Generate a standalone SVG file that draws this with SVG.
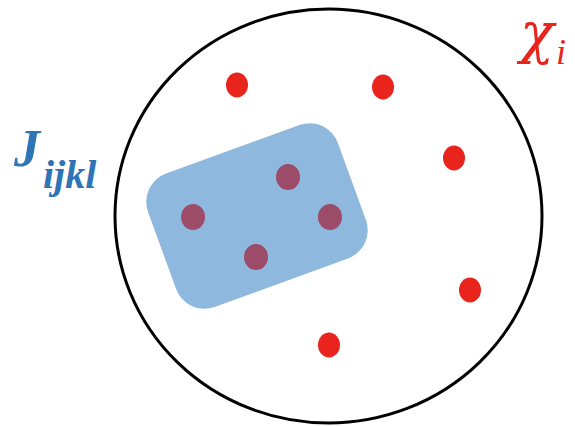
<svg xmlns="http://www.w3.org/2000/svg" width="575" height="427" viewBox="0 0 575 427">
<style>
.red{fill:#e8241c}
.pur{fill:#9c4c68}
.lbl{font-family:"Liberation Serif","DejaVu Serif",serif;font-style:italic}
</style>
<rect width="575" height="427" fill="#fff"/>
<g id="domain">
<ellipse cx="328.5" cy="216" rx="213.5" ry="207" fill="none" stroke="#000" stroke-width="3"/>
</g>
<g id="cluster">
<rect x="156" y="145" width="202" height="142" rx="30" ry="30" fill="#8fb8de" transform="rotate(-20 257 216)"/>
</g>
<g id="points">
<ellipse class="red" cx="237" cy="85" rx="11" ry="12.5"/>
<ellipse class="red" cx="383" cy="87" rx="11" ry="12.5"/>
<ellipse class="red" cx="454" cy="158" rx="11" ry="12.5"/>
<ellipse class="red" cx="470" cy="290" rx="11" ry="12.5"/>
<ellipse class="red" cx="329" cy="345" rx="11" ry="12.5"/>
<ellipse class="pur" cx="193" cy="217" rx="12" ry="13"/>
<ellipse class="pur" cx="288" cy="177" rx="12" ry="13"/>
<ellipse class="pur" cx="330" cy="217" rx="12" ry="13"/>
<ellipse class="pur" cx="256" cy="257" rx="12" ry="13"/>
</g>
<g id="label-J">
<text class="lbl" x="14" y="166" fill="#2f74b5" font-weight="bold" font-size="52">J<tspan font-size="40" dy="22" dx="3">ijkl</tspan></text>
</g>
<g id="label-chi">
<text x="520" y="52" fill="#e8241c" font-size="56" font-family="'DejaVu Serif',serif" font-style="italic">χ</text>
<text class="lbl" x="556" y="64" fill="#e8241c" font-size="36">i</text>
</g>
</svg>
